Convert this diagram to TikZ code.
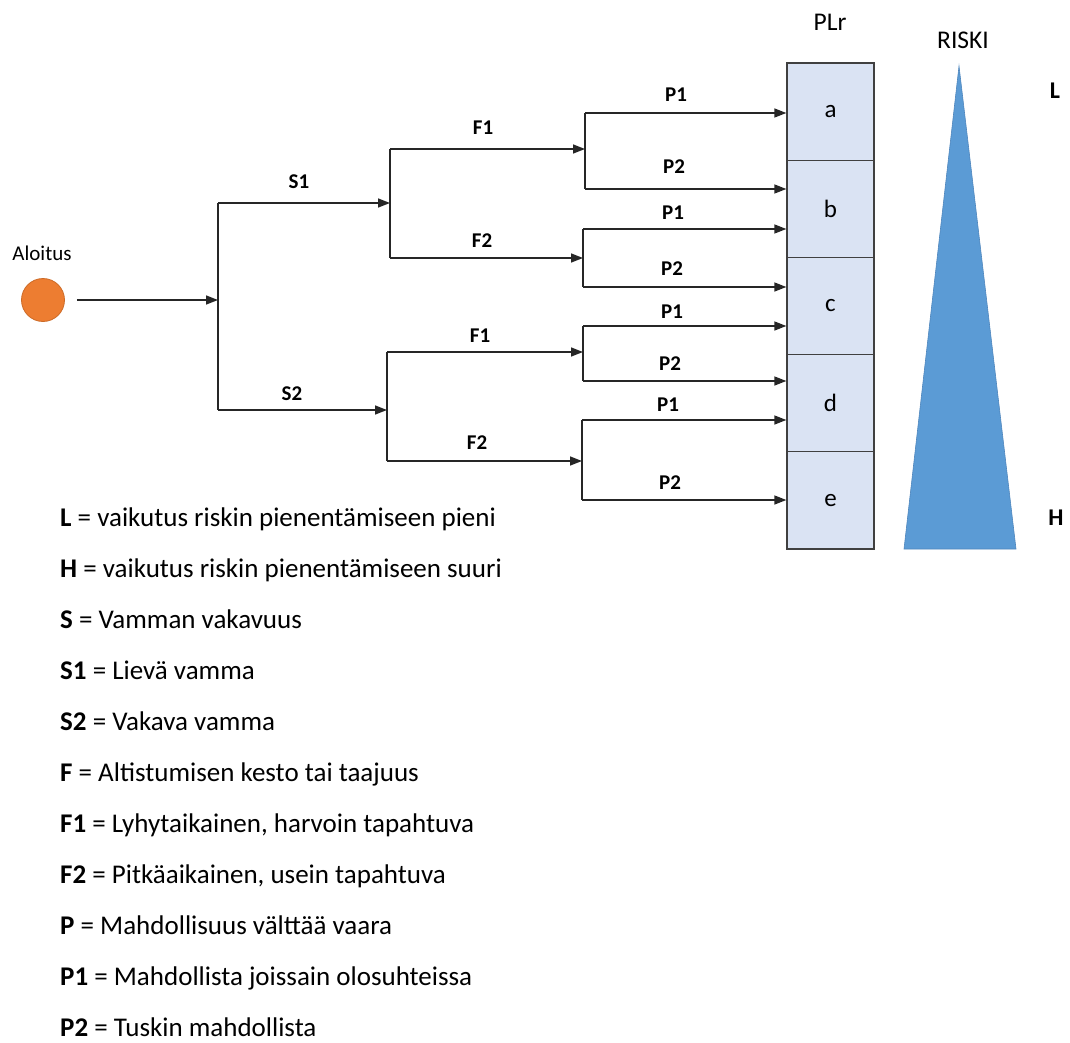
\documentclass[tikz,border=0pt]{standalone}
\usepackage{fontspec}
\setmainfont{Carlito}
\usetikzlibrary{arrows.meta}
\definecolor{cellfill}{HTML}{DAE3F3}
\definecolor{riskfill}{HTML}{5B9BD5}
\definecolor{riskedge}{HTML}{4F86BD}
\definecolor{startfill}{HTML}{ED7D31}
\definecolor{startedge}{HTML}{CC6A26}
\newcommand\setfs[1]{\fontsize{#1}{#1}\selectfont}

\begin{document}
\begin{tikzpicture}[x=1pt,y=-1pt,
  conn/.style={line width=1.4pt, draw=black!85},
  arr/.style={conn, -{Triangle[length=12pt,width=9pt]}},
  branch/.style={font=\setfs{21}\bfseries, inner sep=0pt},
  cell/.style={draw=black!75, line width=1.3pt, fill=cellfill, minimum width=87pt,
               minimum height=97.2pt, inner sep=0pt, font=\setfs{25}},
  head/.style={font=\setfs{25.5}, inner sep=0pt},
  side/.style={font=\setfs{24}\bfseries, inner sep=0pt},
  legend/.style={anchor=base west, inner sep=0pt, font=\setfs{27}},
]
\useasboundingbox (0,0) rectangle (1070,1043);

% start point
\node[circle, fill=startfill, draw=startedge, line width=0.8pt, minimum size=43pt, inner sep=0pt] (start) at (43,300) {};
\node[font=\setfs{21}, inner sep=0pt] (startlbl) at (42,253) {Aloitus};

% PLr column
\node[head] (plr) at (830,22) {PLr};
\node[cell] (ca) at (830.5,111.6) {a};
\node[cell] (cb) at (830.5,208.8) {b};
\node[cell] (cc) at (830.5,306.0) {c};
\node[cell] (cd) at (830.5,403.2) {d};
\node[cell] (ce) at (830.5,500.4) {e};

% risk wedge
\node[head] (riski) at (963,40) {RISKI};
\coordinate (apex) at (959,66);
\coordinate (baseL) at (904,549);
\coordinate (baseR) at (1016,549);
\fill[riskfill, draw=riskedge, line width=0.6pt] (apex) -- (baseR) -- (baseL) -- cycle;
\node[side] (lowL) at (1055,91) {L};
\node[side] (highH) at (1056,518) {H};

% junctions of the decision tree
\coordinate (jS)   at (218,300);
\coordinate (jS1)  at (218,203);
\coordinate (jS2)  at (218,410);
\coordinate (jF1)  at (390,203);
\coordinate (jF1t) at (390,149);
\coordinate (jF1b) at (390,258);
\coordinate (jF2)  at (387,410);
\coordinate (jF2t) at (387,352);
\coordinate (jF2b) at (387,461);
\coordinate (jPa)  at (585,149);
\coordinate (jPat) at (585,113);
\coordinate (jPab) at (585,189);
\coordinate (jPb)  at (583,258);
\coordinate (jPbt) at (583,229);
\coordinate (jPbb) at (583,287);
\coordinate (jPc)  at (583,352);
\coordinate (jPct) at (583,326);
\coordinate (jPcb) at (583,381);
\coordinate (jPd)  at (582,461);
\coordinate (jPdt) at (582,420);
\coordinate (jPdb) at (582,500);

% severity
\draw[arr] ([xshift=12pt]start.east) -- (jS);
\draw[conn] (jS1) -- (jS2);
\draw[arr] (jS1) -- (jF1);
\draw[arr] (jS2) -- (jF2);

% frequency
\draw[conn] (jF1t) -- (jF1b);
\draw[conn] (jF2t) -- (jF2b);
\draw[arr] (jF1t) -- (jPa);
\draw[arr] (jF1b) -- (jPb);
\draw[arr] (jF2t) -- (jPc);
\draw[arr] (jF2b) -- (jPd);

% possibility of avoidance
\draw[conn] (jPat) -- (jPab);
\draw[conn] (jPbt) -- (jPbb);
\draw[conn] (jPct) -- (jPcb);
\draw[conn] (jPdt) -- (jPdb);
\draw[arr] (jPat) -- (jPat -| ca.west);
\draw[arr] (jPab) -- (jPab -| cb.west);
\draw[arr] (jPbt) -- (jPbt -| cb.west);
\draw[arr] (jPbb) -- (jPbb -| cc.west);
\draw[arr] (jPct) -- (jPct -| cc.west);
\draw[arr] (jPcb) -- (jPcb -| cd.west);
\draw[arr] (jPdt) -- (jPdt -| cd.west);
\draw[arr] (jPdb) -- (jPdb -| ce.west);

% branch labels
\node[branch] (ls1) at (299,182) {S1};
\node[branch] (ls2) at (292,394) {S2};
\node[branch] (lf1a) at (483,128) {F1};
\node[branch] (lf2a) at (482,241) {F2};
\node[branch] (lf1b) at (480,336) {F1};
\node[branch] (lf2b) at (477,443) {F2};
\node[branch] (lp1a) at (676,95) {P1};
\node[branch] (lp2a) at (674,167) {P2};
\node[branch] (lp1b) at (673,213) {P1};
\node[branch] (lp2b) at (672,269) {P2};
\node[branch] (lp1c) at (672,312) {P1};
\node[branch] (lp2c) at (670,364) {P2};
\node[branch] (lp1d) at (668,405) {P1};
\node[branch] (lp2d) at (670,483) {P2};

% key
\node[legend] (k1)  at (60,526.5) {\textbf{L} = vaikutus riskin pienentämiseen pieni};
\node[legend] (k2)  at (60,577.5) {\textbf{H} = vaikutus riskin pienentämiseen suuri};
\node[legend] (k3)  at (60,628.4) {\textbf{S} = Vamman vakavuus};
\node[legend] (k4)  at (60,679.4) {\textbf{S1} = Lievä vamma};
\node[legend] (k5)  at (60,730.3) {\textbf{S2} = Vakava vamma};
\node[legend] (k6)  at (60,781.3) {\textbf{F} = Altistumisen kesto tai taajuus};
\node[legend] (k7)  at (60,832.2) {\textbf{F1} = Lyhytaikainen, harvoin tapahtuva};
\node[legend] (k8)  at (60,883.2) {\textbf{F2} = Pitkäaikainen, usein tapahtuva};
\node[legend] (k9)  at (60,934.1) {\textbf{P} = Mahdollisuus välttää vaara};
\node[legend] (k10) at (60,985.1) {\textbf{P1} = Mahdollista joissain olosuhteissa};
\node[legend] (k11) at (60,1036.0) {\textbf{P2} = Tuskin mahdollista};
\end{tikzpicture}
\end{document}
